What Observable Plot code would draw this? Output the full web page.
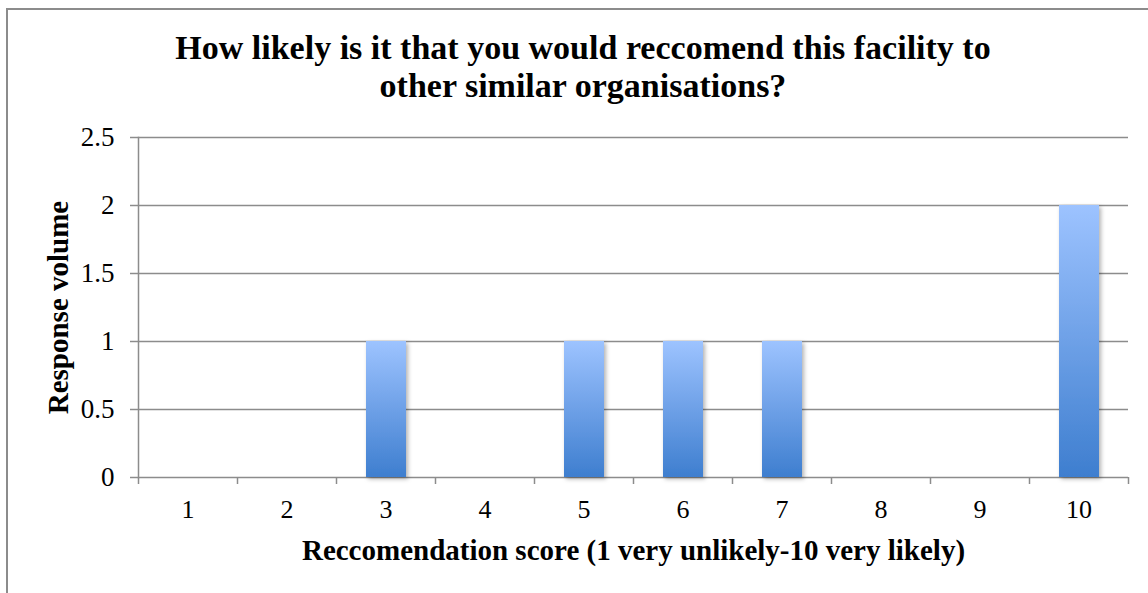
<!DOCTYPE html>
<html><head><meta charset="utf-8">
<script src="https://cdn.jsdelivr.net/npm/d3@7"></script>
<script src="https://cdn.jsdelivr.net/npm/@observablehq/plot@0.6"></script>
<style>
html,body{margin:0;padding:0;background:#fff;}
#wrap{position:relative;width:1148px;height:593px;overflow:hidden;background:#fff;}
#frame{position:absolute;left:6px;top:8px;width:1300px;height:800px;border-top:2px solid #8c8c8c;border-left:2px solid #8c8c8c;box-sizing:border-box;}
#title{position:relative;height:118px;box-sizing:border-box;padding-top:29px;text-align:center;font-family:"Liberation Serif",serif;font-weight:bold;font-size:34px;line-height:38px;color:#000;}
#title div{width:1166px;}
#chart{position:relative;}
</style></head>
<body>
<div id="wrap">
<div id="frame"></div>
<div id="title"><div>How likely is it that you would reccomend this facility to</div><div>other similar organisations?</div></div>
<div id="chart"></div>
</div>
<script>
const scores = ["1","2","3","4","5","6","7","8","9","10"];
const counts = [0,0,1,0,1,1,1,0,0,2];
const yTicks = [0,0.5,1,1.5,2,2.5];
const yLabel = "Response volume";
const xLabel = "Reccomendation score (1 very unlikely-10 very likely)";

const data = scores.map((s,i)=>({score:s,count:counts[i]}));
const grey = "#8c8c8c";

const plot = Plot.plot({
  width:1148, height:475,
  marginLeft:138, marginRight:20, marginTop:19, marginBottom:116,
  style:{fontFamily:"Liberation Serif", fontSize:"26px", color:"#000", background:"transparent", overflow:"visible"},
  x:{domain:scores, padding:0, label:null},
  y:{domain:[0,2.5], label:null},
  marks:[
    () => {
      const defs = d3.create("svg:defs");
      const g = defs.append("linearGradient").attr("id","barGrad").attr("x1",0).attr("y1",0).attr("x2",0).attr("y2",1);
      g.append("stop").attr("offset","0%").attr("stop-color","#9dc3ff");
      g.append("stop").attr("offset","100%").attr("stop-color","#3e7ecf");
      const f = defs.append("filter").attr("id","barShadow").attr("x","-20%").attr("y","-10%").attr("width","150%").attr("height","130%");
      f.append("feDropShadow").attr("dx",2).attr("dy",2).attr("stdDeviation",2).attr("flood-color","#000").attr("flood-opacity",0.3);
      return defs.node();
    },
    Plot.ruleY(yTicks, {stroke:grey, strokeWidth:1.5}),
    Plot.axisY({ticks:yTicks, tickSize:8, tickPadding:16, stroke:grey, strokeWidth:1.5, tickFormat:d=>String(d), label:null, fontSize:27}),
    Plot.frame({anchor:"left", stroke:grey, strokeWidth:1.5}),
    Plot.axisX({tickSize:7, fill:"none", stroke:grey, strokeWidth:1.5, dx:-49.5, label:null}),
    Plot.axisX({ticks:[scores[scores.length-1]], tickSize:7, fill:"none", stroke:grey, strokeWidth:1.5, dx:49.5, label:null}),
    Plot.axisX({tickSize:0, tickPadding:22, label:null, fontSize:26}),
    Plot.barY(data.filter(d=>d.count>0), {x:"score", y:"count", fill:"url(#barGrad)", insetLeft:30, insetRight:29}),
    Plot.text([yLabel], {frameAnchor:"left", dx:-80, rotate:-90, textAnchor:"middle", lineAnchor:"middle", fontWeight:"bold", fontSize:29, fontFamily:"Liberation Serif"}),
    Plot.text([xLabel], {frameAnchor:"bottom", dy:73, textAnchor:"middle", lineAnchor:"middle", fontWeight:"bold", fontSize:29, fontFamily:"Liberation Serif"})
  ]
});
d3.select(plot).selectAll("g[aria-label='bar']").attr("filter","url(#barShadow)");
document.getElementById("chart").appendChild(plot);
</script>
</body></html>
